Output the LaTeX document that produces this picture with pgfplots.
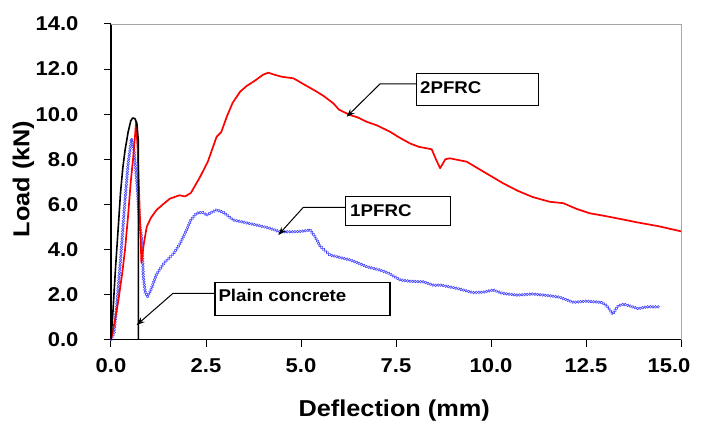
\documentclass[border=0pt]{standalone}
\usepackage{fontspec}
\setmainfont{Liberation Sans}[FakeStretch=1.1]
\usepackage{pgfplots}
\pgfplotsset{compat=1.18}
\usetikzlibrary{arrows.meta,decorations.markings}

\definecolor{frcblue}{RGB}{70,70,255}
\definecolor{frcred}{RGB}{255,0,0}

\begin{document}
\begin{tikzpicture}
\begin{axis}[
  name=ax,
  scale only axis, width=570pt, height=315.5pt,
  xmin=0, xmax=15, ymin=0, ymax=14,
  axis lines*=left,
  axis line style={line width=1.2pt, black, -},
  xtick={0,2.5,5,7.5,10,12.5,15},
  xticklabels={0.0,2.5,5.0,7.5,10.0,12.5,\kern-24pt 15.0},
  ytick={0,2,4,6,8,10,12,14},
  tick align=outside, major tick length=7pt,
  tick style={black, line width=1pt},
  ticklabel style={font=\fontsize{20}{24}\selectfont\bfseries},
  /pgf/number format/fixed,
  /pgf/number format/fixed zerofill,
  /pgf/number format/precision=1,
  /pgf/number format/assume math mode=true,
  xticklabel style={anchor=base, yshift=-25.5pt},
  yticklabel style={anchor=east, xshift=-22pt},
  xlabel={Deflection (mm)},
  ylabel={Load (kN)},
  every axis x label/.style={at={(axis description cs:0.5,0)}, anchor=base,
    yshift=-76.5pt, xshift=-1.8pt, font=\fontsize{23}{26}\selectfont\bfseries},
  every axis y label/.style={at={(axis description cs:-0.1535,0.5087)}, anchor=center,
    rotate=90, font=\fontsize{23}{26}\selectfont\bfseries},
  clip=false,
]

% top and right frame
\draw[gray!70, line width=0.8pt] (rel axis cs:0,1) -- (rel axis cs:1,1) -- (rel axis cs:1,0);

% 1PFRC: chain of small hollow circles along the curve
\addplot[draw=none, postaction={decorate},
  decoration={markings, mark=between positions 0 and 1 step 2.6pt with
    {\draw[frcblue, line width=0.6pt] (0,0) circle (1.3pt);}}]
coordinates {
(0,0) (0.08,0.3) (0.15,1.5) (0.25,3.5) (0.35,5.8) (0.45,7.8) (0.54,8.9)
(0.6,8.5) (0.68,7.0) (0.76,5.0) (0.81,4.5) (0.85,2.8) (0.9,2.1) (0.96,1.9)
(1.05,2.2) (1.2,2.9) (1.4,3.4) (1.64,3.8) (1.8,4.2) (1.99,4.86) (2.1,5.3)
(2.25,5.6) (2.4,5.65) (2.52,5.52) (2.65,5.65) (2.78,5.75) (2.95,5.65)
(3.22,5.3) (3.5,5.2) (3.83,5.08) (4.15,4.95) (4.45,4.78) (4.8,4.78)
(5.0,4.8) (5.24,4.86) (5.37,4.56) (5.5,4.15) (5.76,3.75) (6.0,3.65)
(6.29,3.53) (6.5,3.4) (6.73,3.23) (7.08,3.08) (7.3,2.95) (7.61,2.64)
(7.9,2.58) (8.22,2.56) (8.5,2.4) (8.66,2.42) (9.1,2.27) (9.53,2.08)
(9.8,2.1) (10.06,2.2) (10.3,2.05) (10.68,1.97) (11.1,2.02) (11.5,1.95)
(11.8,1.88) (12.17,1.65) (12.5,1.7) (12.9,1.65) (13.05,1.5) (13.2,1.13)
(13.35,1.5) (13.5,1.57) (13.87,1.37) (14.1,1.45) (14.4,1.45)
};

% 2PFRC
\addplot[frcred, line width=1.7pt, line join=round] coordinates {
(0,0) (0.1,0.8) (0.2,1.8) (0.3,3.0) (0.37,4.0) (0.45,5.5) (0.52,7.0)
(0.58,8.0) (0.63,9.0) (0.66,9.66) (0.7,8.5) (0.75,6.0) (0.8,3.4)
(0.86,4.2) (0.94,5.0) (1.05,5.4) (1.2,5.75) (1.37,6.0) (1.55,6.25)
(1.8,6.4) (1.95,6.35) (2.1,6.5) (2.34,7.2) (2.55,7.9) (2.78,9.0)
(2.9,9.2) (3.05,9.9) (3.2,10.5) (3.4,11.0) (3.57,11.25) (3.8,11.5)
(4.0,11.75) (4.14,11.84) (4.3,11.75) (4.49,11.66) (4.8,11.59) (5.1,11.3)
(5.41,11.0) (5.6,10.8) (5.85,10.48) (6.0,10.2) (6.29,9.96) (6.5,9.85)
(6.73,9.66) (7.0,9.5) (7.34,9.22) (7.6,8.95) (7.87,8.7) (8.1,8.55)
(8.44,8.44) (8.55,8.0) (8.66,7.6) (8.8,8.0) (8.92,8.04) (9.36,7.89)
(9.8,7.45) (10.32,6.93) (10.7,6.6) (11.1,6.32) (11.55,6.11) (11.9,6.05)
(12.26,5.79) (12.6,5.6) (12.97,5.49) (13.4,5.35) (13.87,5.19) (14.4,5.03)
(15.0,4.8)
};

% Plain concrete
\addplot[black, line width=1.6pt, line join=round] coordinates {
(0,0) (0.05,1.2) (0.12,3.2) (0.2,5.2) (0.25,6.5) (0.31,7.6) (0.37,8.4)
(0.45,9.2) (0.52,9.7) (0.57,9.83) (0.63,9.8) (0.68,9.6) (0.72,8.8) (0.72,0)
};

% call-outs
\tikzset{callout/.style={black, line width=1pt, -{Stealth[length=8pt,width=6pt]}},
         cbox/.style={draw=black, line width=1.2pt, fill=white},
         ctext/.style={anchor=base west, inner sep=0pt, font=\fontsize{17}{20}\selectfont\bfseries}}

\draw[callout] (axis cs:8.045,11.34) -- (axis cs:7.079,11.34) -- (axis cs:6.203,9.885);
\draw[cbox] (axis cs:8.045,11.81) rectangle (axis cs:11.245,10.40);
\node[ctext] at (axis cs:8.13,10.92) {2PFRC};

\draw[callout] (axis cs:6.176,5.865) -- (axis cs:5.061,5.865) -- (axis cs:4.403,4.636);
\draw[cbox] (axis cs:6.176,6.336) rectangle (axis cs:8.939,5.049);
\node[ctext] at (axis cs:6.29,5.45) {1PFRC};

\draw[callout] (axis cs:2.737,2.05) -- (axis cs:1.632,2.05) -- (axis cs:0.676,0.643);
\draw[cbox] (axis cs:2.737,2.536) rectangle (axis cs:7.342,1.055);
\node[ctext] at (axis cs:2.824,1.677) {Plain concrete};
\end{axis}
\path[use as bounding box] (ax.south west) ++(-111pt,-83.5pt) rectangle ++(706pt,423pt);
\end{tikzpicture}
\end{document}
